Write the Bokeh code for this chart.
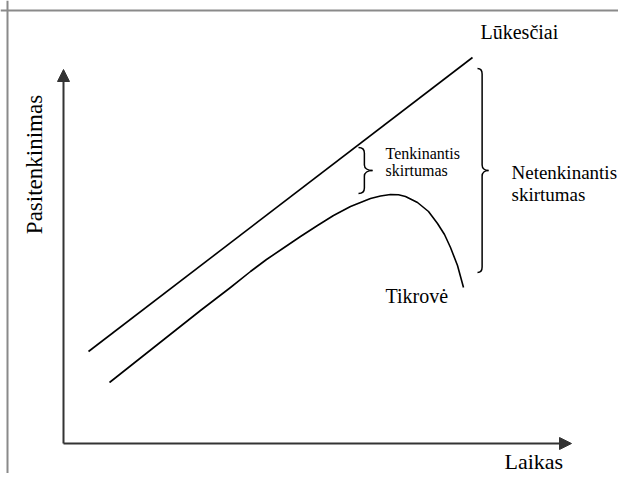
import math
from bokeh.plotting import figure
from bokeh.models import Range1d, Arrow, NormalHead, Span
from bokeh.core.properties import value
from bokeh.embed import file_html
from bokeh.resources import INLINE

# ---- data (abstract units: time along x, satisfaction along y) ----
expect_x = [2.5, 40.9]
expect_y = [9.2, 38.6]

reality_x = [4.6, 13.7, 16.7, 18.7, 20.3, 22.0, 23.7, 25.4, 27.0, 28.7, 30.7, 31.7,
             32.7, 33.5, 34.2, 35.4, 36.5, 37.4, 38.1, 38.7, 39.4, 40.0]
reality_y = [6.1, 13.3, 15.6, 17.2, 18.4, 19.55, 20.7, 21.8, 22.8, 23.7, 24.5, 24.75,
             24.9, 24.87, 24.7, 24.1, 23.2, 22.0, 20.9, 19.6, 17.8, 15.6]

# braces: small ("Tenkinantis skirtumas") and big ("Netenkinantis skirtumas")
brace_left = [29.5, 41.4]
brace_tip = [30.9, 42.5]
brace_top = [29.6, 37.5]
brace_bottom = [25.0, 17.1]
brace_mid = [27.3, 27.3]

axis_x_end = 50.8
axis_y_end = 37.4

FONT = value("'Liberation Serif', 'Times New Roman', serif")

p = figure(width=618, height=473, output_backend="svg", toolbar_location=None,
           x_range=Range1d(-6.3, 55.5), y_range=Range1d(-3.0, 44.3),
           x_axis_type=None, y_axis_type=None, min_border=0)
p.grid.visible = False
p.outline_line_color = None
p.background_fill_color = "white"
p.border_fill_color = "white"

# frame of the original picture (top and left edges)
p.add_layout(Span(location=43.3, dimension="width", line_color="#8a8a8a", line_width=2))
p.add_layout(Span(location=-5.6, dimension="height", line_color="#8a8a8a", line_width=2))

# axes with arrows
axcol = "#333333"
p.add_layout(Arrow(end=NormalHead(size=12, fill_color=axcol, line_color=axcol),
                   x_start=0, y_start=0, x_end=axis_x_end, y_end=0,
                   line_color=axcol, line_width=2))
p.add_layout(Arrow(end=NormalHead(size=12, fill_color=axcol, line_color=axcol),
                   x_start=0, y_start=0, x_end=0, y_end=axis_y_end,
                   line_color=axcol, line_width=2))

# curves
p.line(expect_x, expect_y, line_color="black", line_width=1.6)
p.line(reality_x, reality_y, line_color="black", line_width=1.6, line_join="round")

# braces built from bezier pieces
bx0, by0, bx1, by1, bcx0, bcy0, bcx1, bcy1 = [], [], [], [], [], [], [], []
sx0, sy0, sx1, sy1 = [], [], [], []
for xl, xt, yt, yb, ym in zip(brace_left, brace_tip, brace_top, brace_bottom, brace_mid):
    xv = xl + 0.42 * (xt - xl)
    r = 0.55
    # top hook
    bx0.append(xl); by0.append(yt); bx1.append(xv); by1.append(yt - r)
    bcx0.append(xl + 0.6 * (xv - xl)); bcy0.append(yt); bcx1.append(xv); bcy1.append(yt - 0.4 * r)
    # upper cusp
    bx0.append(xv); by0.append(ym + r); bx1.append(xt); by1.append(ym)
    bcx0.append(xv); bcy0.append(ym + 0.4 * r); bcx1.append(xv + 0.4 * (xt - xv)); bcy1.append(ym)
    # lower cusp
    bx0.append(xt); by0.append(ym); bx1.append(xv); by1.append(ym - r)
    bcx0.append(xv + 0.4 * (xt - xv)); bcy0.append(ym); bcx1.append(xv); bcy1.append(ym - 0.4 * r)
    # bottom hook
    bx0.append(xv); by0.append(yb + r); bx1.append(xl); by1.append(yb)
    bcx0.append(xv); bcy0.append(yb + 0.4 * r); bcx1.append(xl + 0.6 * (xv - xl)); bcy1.append(yb)
    # straight stems
    sx0 += [xv, xv]; sy0 += [yt - r, ym - r]; sx1 += [xv, xv]; sy1 += [ym + r, yb + r]

p.bezier(x0=bx0, y0=by0, x1=bx1, y1=by1, cx0=bcx0, cy0=bcy0, cx1=bcx1, cy1=bcy1,
         line_color="black", line_width=1.5)
p.segment(x0=sx0, y0=sy0, x1=sx1, y1=sy1, line_color="black", line_width=1.5)

# texts
p.text(x=[41.7], y=[41.2], text=["Lūkesčiai"], text_font=FONT, text_font_size="20px",
       text_baseline="middle", text_align="left", text_color="black")
p.text(x=[32.2, 32.2], y=[29.0, 27.3], text=["Tenkinantis", "skirtumas"], text_font=FONT,
       text_font_size="16px", text_baseline="middle", text_align="left", text_color="black")
p.text(x=[44.8, 44.8], y=[27.1, 24.9], text=["Netenkinantis", "skirtumas"], text_font=FONT,
       text_font_size="19px", text_baseline="middle", text_align="left", text_color="black")
p.text(x=[32.2], y=[14.8], text=["Tikrovė"], text_font=FONT, text_font_size="20px",
       text_baseline="middle", text_align="left", text_color="black")
p.text(x=[44.1], y=[-1.75], text=["Laikas"], text_font=FONT, text_font_size="22px",
       text_baseline="middle", text_align="left", text_color="black")
p.text(x=[-2.9], y=[27.9], text=["Pasitenkinimas"], angle=math.pi / 2, text_font=FONT,
       text_font_size="23px", text_baseline="middle", text_align="center", text_color="black")

open("out.html", "w").write(file_html(p, INLINE))
